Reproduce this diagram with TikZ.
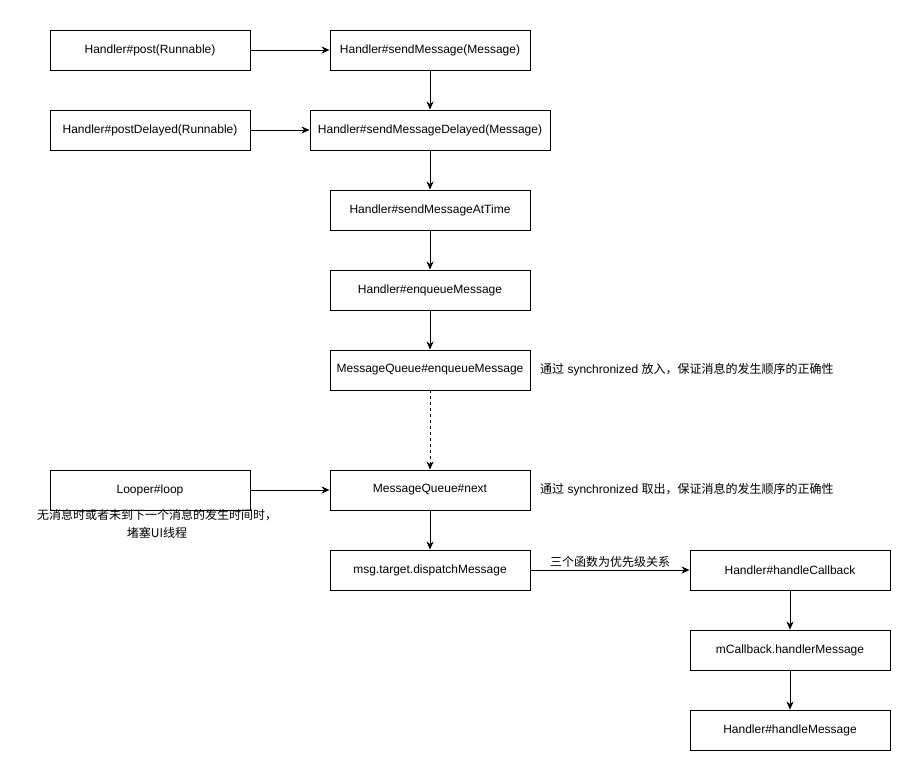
\documentclass[tikz,border=0pt]{standalone}
\usepackage{fontspec}
\setmainfont{Liberation Sans}
\newfontfamily\cjk{Noto Sans CJK SC}
\usetikzlibrary{arrows.meta}
\tikzset{
  box/.style={draw, line width=0.9pt, minimum width=200pt, minimum height=40pt, inner sep=0pt, font=\fontsize{12}{14}\selectfont},
  arr/.style={line width=0.9pt, -{Stealth[length=8pt,width=7pt,inset=2.5pt]}},
  note/.style={inner sep=0pt, font=\fontsize{12}{14}\selectfont}
}
\begin{document}
\begin{tikzpicture}[x=1pt,y=-1pt]
\useasboundingbox (0,0) rectangle (921,781);
\node[box] (post) at (150,50) {Handler\#post(Runnable)};
\node[box] (sm) at (430,50) {Handler\#sendMessage(Message)};
\node[box] (pd) at (150,130) {Handler\#postDelayed(Runnable)};
\node[box, minimum width=240pt] (smd) at (430,130) {Handler\#sendMessageDelayed(Message)};
\node[box] (smat) at (430,210) {Handler\#sendMessageAtTime};
\node[box] (enq) at (430,290) {Handler\#enqueueMessage};
\node[box] (mqe) at (430,370) {MessageQueue\#enqueueMessage};
\node[box] (loop) at (150,490) {Looper\#loop};
\node[box] (next) at (430,490) {MessageQueue\#next};
\node[box] (disp) at (430,570) {msg.target.dispatchMessage};
\node[box] (hc) at (790,570) {Handler\#handleCallback};
\node[box] (mc) at (790,650) {mCallback.handlerMessage};
\node[box] (hm) at (790,730) {Handler\#handleMessage};

\node[note, anchor=west] (ann1) at (540,370) {{\cjk 通过} synchronized {\cjk 放入，保证消息的发生顺序的正确性}};
\node[note, anchor=west] (ann2) at (540,490) {{\cjk 通过} synchronized {\cjk 取出，保证消息的发生顺序的正确性}};
\node[note, align=center, font=\cjk\fontsize{12}{18}\selectfont] (lnote) at (157,524) {无消息时或者未到下一个消息的发生时间时，\\堵塞UI线程};

\draw[arr] (post) -- (sm);
\draw[arr] (sm) -- (smd);
\draw[arr] (pd) -- (smd);
\draw[arr] (smd) -- (smat);
\draw[arr] (smat) -- (enq);
\draw[arr] (enq) -- (mqe);
\draw[arr, dashed] (mqe) -- (next);
\draw[arr] (loop) -- (next);
\draw[arr] (next) -- (disp);
\draw[arr] (disp) -- node[midway, yshift=8pt, font=\cjk\fontsize{12}{14}\selectfont] {三个函数为优先级关系} (hc);
\draw[arr, line width=0.6pt] (hc) -- (mc);
\draw[arr, line width=0.6pt] (mc) -- (hm);
\end{tikzpicture}
\end{document}
